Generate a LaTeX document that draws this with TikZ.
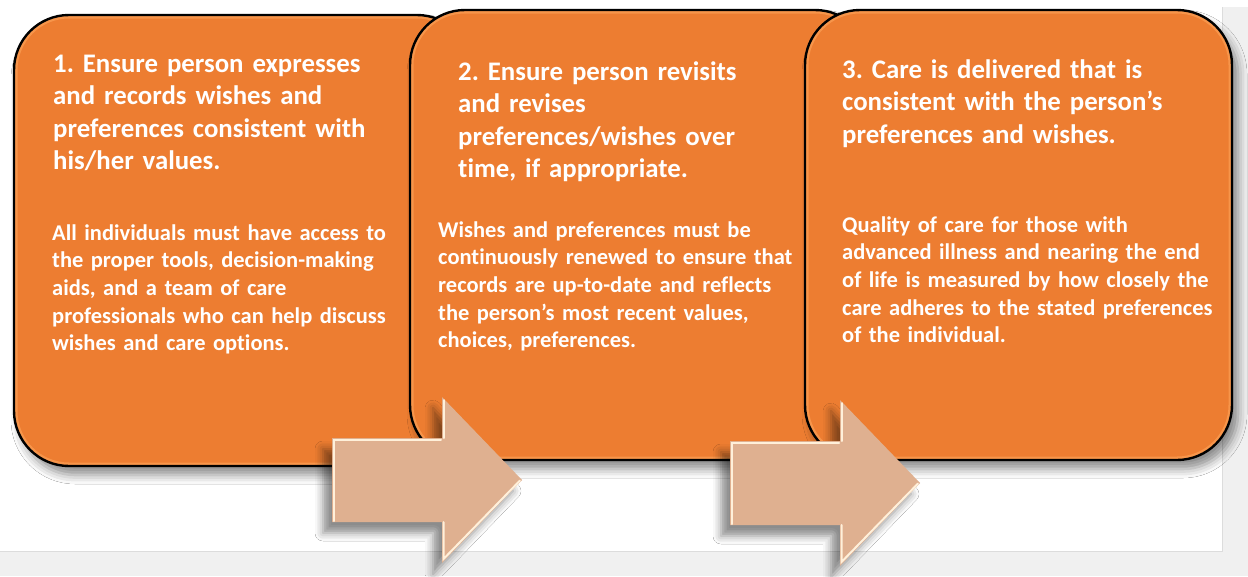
\documentclass[tikz,border=0pt]{standalone}
\usepackage{fontspec}
\setmainfont{Carlito}[Ligatures=NoCommon]
\frenchspacing
\usetikzlibrary{shadows.blur}
\definecolor{boxorange}{HTML}{ED7D31}
\definecolor{boxrim}{HTML}{F7954A}
\definecolor{arrowfill}{HTML}{DFB090}
\definecolor{arrowlight}{HTML}{FFF0DA}
\definecolor{pagegray}{HTML}{F0F0F0}
\definecolor{pageline}{HTML}{DCDCDC}
\begin{document}
\begin{tikzpicture}[x=1pt,y=-1pt,
  stagebox/.style={rectangle, rounded corners=55pt, fill=boxorange, draw=black,
    line width=2.4pt, inner sep=0pt, outer sep=0pt,
    blur shadow={shadow xshift=6pt, shadow yshift=-9pt, shadow blur radius=9pt, shadow opacity=45},
    path picture={\draw[boxrim, line width=7pt, rounded corners=55pt]
      (path picture bounding box.south west) rectangle (path picture bounding box.north east);}},
  headtext/.style={anchor=base west, inner sep=0pt, text=white, align=left, text width=420pt,
    font=\fontsize{26.8}{32.5}\selectfont\bfseries},
  bodytext/.style={anchor=base west, inner sep=0pt, text=white, align=left, text width=420pt,
    font=\fontsize{22.5}{27.7}\selectfont\bfseries},
  stagearrow/.style={fill=arrowfill,
    blur shadow={shadow xshift=-9pt, shadow yshift=-11pt, shadow blur radius=8pt, shadow opacity=45}},
  arrowedge/.style={draw=arrowlight, line width=2pt, line cap=round}
]
\useasboundingbox (0,0) rectangle (1248,576);
% page background
\fill[pagegray] (0,0) rectangle (1248,576);
\fill[white] (0,0) rectangle (1222,551);
\fill[white] (0,0) rectangle (1248,7);
\draw[pageline, line width=0.8pt] (1222,7) -- (1222,551) -- (0,551);

% the three stages
\node[stagebox, minimum width=458pt, minimum height=451pt] (b1) at (243,240.5) {};
\node[stagebox, minimum width=460pt, minimum height=450pt] (b2) at (640,235) {};
\node[stagebox, minimum width=427pt, minimum height=450pt] (b3) at (1018.5,235) {};

\node[headtext] (t1) at (53,72) {1. Ensure person expresses\\and records wishes and\\preferences consistent with\\his/her values.};
\node[bodytext] (d1) at (52,240) {All individuals must have access to\\the proper tools, decision-making\\aids, and a team of care\\professionals who can help discuss\\wishes and care options.};

\node[headtext] (t2) at (458,80) {2. Ensure person revisits\\and revises\\preferences/wishes over\\time, if appropriate.};
\node[bodytext] (d2) at (438,237) {Wishes and preferences must be\\continuously renewed to ensure that\\records are up-to-date and reflects\\the person’s most recent values,\\choices, preferences.};

\node[headtext] (t3) at (842,78) {3. Care is delivered that is\\consistent with the person’s\\preferences and wishes.};
\node[bodytext] (d3) at (842,232) {Quality of care for those with\\advanced illness and nearing the end\\of life is measured by how closely the\\care adheres to the stated preferences\\of the individual.};

% block arrows between the stages
\foreach \dx/\dy in {0/0, 398/3} {
  \begin{scope}[shift={(\dx,\dy)}]
    \path[stagearrow] (332,438) -- (442,438) -- (442,397) -- (522,480) -- (442,563)
      -- (442,522) -- (332,522) -- cycle;
    \path[arrowedge] (333.5,521) -- (333.5,439.5) -- (441,439.5);
    \path[arrowedge] (443.5,438) -- (443.5,400);
    \path[arrowedge] (443.5,522) -- (443.5,559) -- (520,480.5);
  \end{scope}
}
\end{tikzpicture}
\end{document}
